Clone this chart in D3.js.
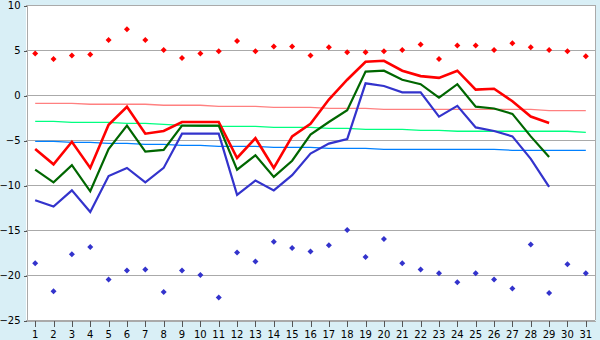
<!DOCTYPE html>
<html><head><meta charset="utf-8">
<script src="https://cdn.jsdelivr.net/npm/d3@7/dist/d3.min.js"></script>
<style>html,body{margin:0;padding:0;background:#d9eff6;} svg{display:block;}</style>
</head><body>
<svg id="c" width="600" height="340"></svg>
<script>
const days = [1,2,3,4,5,6,7,8,9,10,11,12,13,14,15,16,17,18,19,20,21,22,23,24,25,26,27,28,29,30,31];
const yTicks = [10,5,0,-5,-10,-15,-20,-25];

const maxTemp = [-6.0,-7.7,-5.2,-8.1,-3.3,-1.3,-4.3,-4.0,-3.0,-3.0,-3.0,-7.0,-4.8,-8.1,-4.6,-3.2,-0.5,1.7,3.7,3.8,2.7,2.1,1.9,2.7,0.6,0.7,-0.7,-2.4,-3.1];
const meanTemp = [-8.3,-9.7,-7.8,-10.7,-6.0,-3.4,-6.3,-6.1,-3.4,-3.4,-3.4,-8.3,-6.7,-9.1,-7.3,-4.4,-3.0,-1.7,2.6,2.7,1.7,1.2,-0.3,1.2,-1.3,-1.5,-2.1,-4.6,-6.9];
const minTemp = [-11.7,-12.4,-10.6,-13.0,-9.0,-8.1,-9.7,-8.1,-4.3,-4.3,-4.3,-11.1,-9.5,-10.6,-8.9,-6.5,-5.4,-4.9,1.3,1.0,0.3,0.3,-2.4,-1.2,-3.6,-4.0,-4.6,-7.1,-10.2];

const normMax = [-0.92,-0.92,-0.92,-1.03,-1.03,-1.03,-1.03,-1.14,-1.14,-1.14,-1.26,-1.26,-1.26,-1.37,-1.37,-1.37,-1.48,-1.48,-1.48,-1.59,-1.59,-1.59,-1.59,-1.59,-1.59,-1.59,-1.59,-1.59,-1.73,-1.73,-1.73];
const normMean = [-2.93,-2.93,-3.04,-3.04,-3.04,-3.15,-3.15,-3.26,-3.37,-3.48,-3.48,-3.48,-3.48,-3.59,-3.59,-3.59,-3.70,-3.70,-3.81,-3.81,-3.81,-3.92,-3.92,-4.03,-4.03,-4.03,-4.03,-4.03,-4.03,-4.03,-4.15];
const normMin = [-5.15,-5.15,-5.26,-5.26,-5.37,-5.37,-5.48,-5.48,-5.59,-5.59,-5.70,-5.70,-5.70,-5.81,-5.81,-5.81,-5.92,-5.92,-5.92,-6.04,-6.04,-6.04,-6.04,-6.04,-6.04,-6.04,-6.15,-6.15,-6.15,-6.15,-6.15];

const recMax = [4.6,4.0,4.4,4.5,6.1,7.3,6.1,5.0,4.1,4.6,4.85,6.0,4.85,5.4,5.4,4.4,5.3,4.75,4.75,4.85,5.0,5.6,4.0,5.5,5.5,5.0,5.75,5.3,5.0,4.85,4.3];
const recMin = [-18.7,-21.8,-17.7,-16.9,-20.5,-19.5,-19.4,-21.9,-19.5,-20.0,-22.5,-17.5,-18.5,-16.3,-17.0,-17.4,-16.7,-15.0,-18.0,-16.0,-18.7,-19.4,-19.8,-20.8,-19.8,-20.5,-21.5,-16.6,-22.0,-18.8,-19.8];

const L = 26, R = 595, T = 5, B = 320;
const svg = d3.select('#c');
const x = d3.scaleBand().domain(days).range([L, R]);
const xc = d => x(d) + x.bandwidth() / 2;
const y = d3.scaleLinear().domain([-25, 10]).range([B, T]);

svg.append('rect').attr('x', L).attr('y', T).attr('width', R - L).attr('height', B - T).attr('fill', '#ffffff');

// grid
svg.append('g').selectAll('line').data(yTicks).join('line')
  .attr('x1', L).attr('x2', R)
  .attr('y1', d => Math.round(y(d)) + 0.5).attr('y2', d => Math.round(y(d)) + 0.5)
  .attr('stroke', '#aaaaaa').attr('stroke-width', 1).attr('shape-rendering', 'crispEdges');
svg.append('line').attr('x1', R + 0.5).attr('x2', R + 0.5).attr('y1', T).attr('y2', B)
  .attr('stroke', '#aaaaaa').attr('shape-rendering', 'crispEdges');

// axes
const yAxis = svg.append('g').attr('transform', `translate(${L + 0.5},0.5)`)
  .call(d3.axisLeft(y).tickValues(yTicks).tickSize(3).tickSizeOuter(0).tickPadding(3).tickFormat(d3.format('d')));
const xAxis = svg.append('g').attr('transform', `translate(0,${B + 0.5})`)
  .call(d3.axisBottom(x).tickSize(6).tickSizeOuter(0).tickPadding(4));
[yAxis, xAxis].forEach(a => {
  a.select('.domain').attr('stroke', '#aaaaaa').attr('shape-rendering', 'crispEdges');
  a.selectAll('.tick line').attr('stroke', '#555555').attr('shape-rendering', 'crispEdges');
  a.selectAll('text').attr('font-family', 'DejaVu Sans, Verdana, sans-serif').attr('font-size', 10).attr('fill', '#000');
});
xAxis.selectAll('.tick line').attr('transform', 'translate(0.5,0)');

// normal lines
const lineOf = (arr) => d3.line().x((d, i) => xc(days[i])).y(d => y(d))(arr);
[[normMax, '#ff8080'], [normMean, '#00ff80'], [normMin, '#0080ff']].forEach(([arr, c]) => {
  svg.append('path').attr('d', lineOf(arr)).attr('fill', 'none').attr('stroke', c)
    .attr('stroke-width', 1.3);
});

// actual lines
[[maxTemp, '#ff0000', 2.6], [meanTemp, '#006600', 2.2], [minTemp, '#3333cc', 2.2]].forEach(([arr, c, w]) => {
  svg.append('path').attr('d', lineOf(arr)).attr('fill', 'none').attr('stroke', c)
    .attr('stroke-width', w).attr('stroke-linejoin', 'miter');
});

// record diamonds
const diamond = { draw(ctx, size) { const r = Math.sqrt(size) / 2; ctx.moveTo(0, -r); ctx.lineTo(r, 0); ctx.lineTo(0, r); ctx.lineTo(-r, 0); ctx.closePath(); } };
const sym = d3.symbol().type(diamond).size(36);
[[recMax, '#ff0000'], [recMin, '#3333cc']].forEach(([arr, c]) => {
  svg.append('g').selectAll('path').data(arr).join('path')
    .attr('transform', (d, i) => `translate(${xc(days[i])},${y(d)})`)
    .attr('d', sym).attr('fill', c);
});
</script>
</body></html>
